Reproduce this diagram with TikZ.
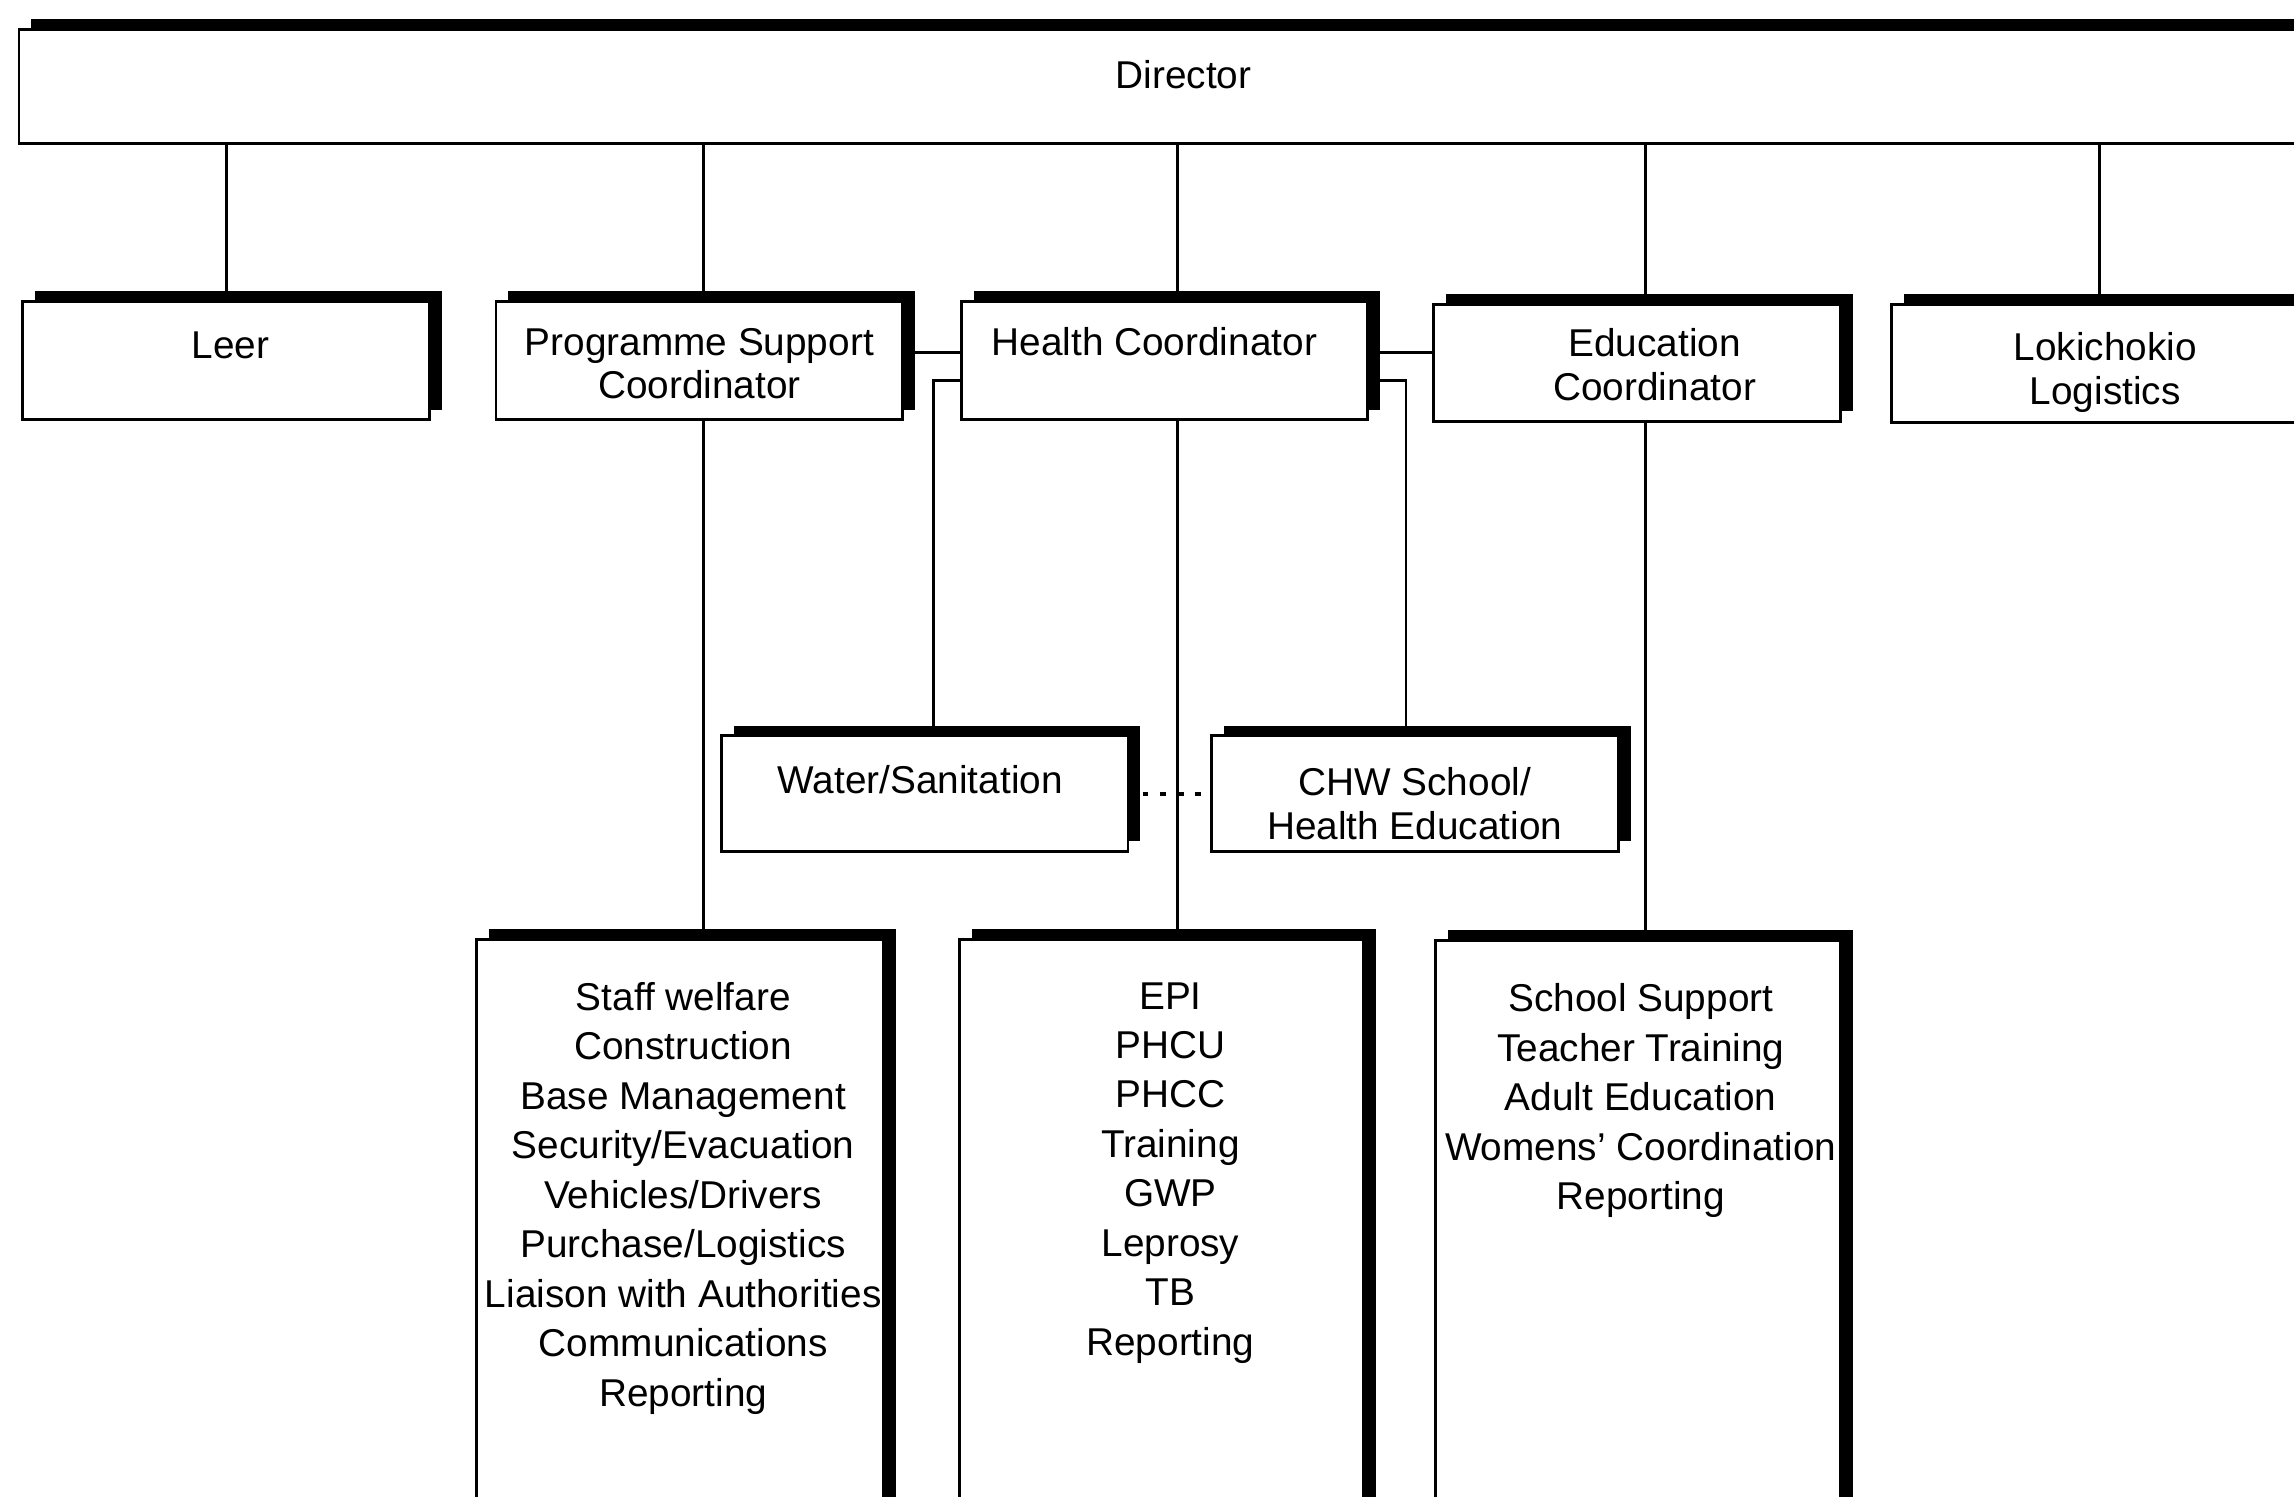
\documentclass[tikz,border=0pt]{standalone}
\usepackage{fontspec}
\setmainfont{Liberation Sans}
\usetikzlibrary{shadows}
\begin{document}
\begin{tikzpicture}[x=1pt,y=-1pt,
  box/.style={draw=black, line width=2pt, fill=white, rectangle, inner sep=0pt, outer sep=0pt,
     drop shadow={shadow xshift=8.5pt, shadow yshift=7pt, fill=black, opacity=1}},
  lbl/.style={anchor=north, align=center, inner sep=0pt, font=\fontsize{26.5}{30}\selectfont},
  lst/.style={anchor=north, align=center, inner sep=0pt, font=\fontsize{26.5}{33.8}\selectfont},
  conn/.style={line width=2pt},
  dots/.style={line width=3pt, dash pattern=on 4pt off 8pt}]
\useasboundingbox (0,0) rectangle (1568,1023);
\clip (0,0) rectangle (1568,1023);
\fill[white] (0,0) rectangle (1568,1023);

% top level
\node[box, minimum width=1592pt, minimum height=78pt,
  label={[lbl, yshift=-18.5pt]north:{\rule{0pt}{22pt}Director}}] (dir) at (809,59) {};
\node[box, minimum width=278pt, minimum height=81pt,
  label={[lbl, yshift=-16.5pt, xshift=3pt]north:{\rule{0pt}{22pt}Leer}}] (leer) at (154.5,246.5) {};
\node[box, minimum width=278pt, minimum height=81pt,
  label={[lbl, yshift=-14.5pt]north:{\rule{0pt}{22pt}Programme Support\\Coordinator}}] (psc) at (478,246.5) {};
\node[box, minimum width=278pt, minimum height=81pt,
  label={[lbl, yshift=-14.5pt, xshift=-7pt]north:{\rule{0pt}{22pt}Health Coordinator}}] (hc) at (796,246.5) {};
\node[box, minimum width=278pt, minimum height=80pt,
  label={[lbl, yshift=-13.5pt, xshift=12pt]north:{\rule{0pt}{22pt}Education\\Coordinator}}] (ec) at (1119,248) {};
\node[box, minimum width=292pt, minimum height=81pt,
  label={[lbl, yshift=-16.5pt]north:{\rule{0pt}{22pt}Lokichokio\\Logistics}}] (loki) at (1439,248.5) {};

% middle level
\node[box, minimum width=278pt, minimum height=79pt,
  label={[lbl, yshift=-17.5pt, xshift=-3pt]north:{\rule{0pt}{22pt}Water/Sanitation}}] (ws) at (632,542.5) {};
\node[box, minimum width=278pt, minimum height=79pt,
  label={[lbl, yshift=-18.5pt]north:{\rule{0pt}{22pt}CHW School/\\Health Education}}] (chw) at (967,542.5) {};

% lists
\node[box, minimum width=278pt, minimum height=458pt,
  label={[lst, yshift=-26.5pt, xshift=2pt]north:{\rule{0pt}{22pt}Staff welfare\\Construction\\Base Management\\Security/Evacuation\\Vehicles/Drivers\\Purchase/Logistics\\Liaison with Authorities\\Communications\\Reporting}}] (pslist) at (465,871) {};
\node[box, minimum width=276pt, minimum height=458pt,
  label={[lst, yshift=-25.5pt, xshift=6pt]north:{\rule{0pt}{22pt}EPI\\PHCU\\PHCC\\Training\\GWP\\Leprosy\\TB\\Reporting}}] (hclist) at (794,871) {};
\node[box, minimum width=277pt, minimum height=458pt,
  label={[lst, yshift=-26.5pt, xshift=2pt]north:{\rule{0pt}{22pt}School Support\\Teacher Training\\Adult Education\\Womens' Coordination\\Reporting}}] (eclist) at (1119.5,872) {};

% connectors from director
\coordinate (leerT) at ([xshift=0.5pt]leer.north);
\coordinate (pscT) at ([xshift=3pt]psc.north);
\coordinate (hcT) at ([xshift=9pt]hc.north);
\coordinate (ecT) at ([xshift=6pt]ec.north);
\coordinate (lokiT) at ([xshift=-4pt]loki.north);
\draw[conn] (leerT) -- (leerT |- dir.south);
\draw[conn] (pscT) -- (pscT |- dir.south);
\draw[conn] (hcT) -- (hcT |- dir.south);
\draw[conn] (ecT) -- (ecT |- dir.south);
\draw[conn] (lokiT) -- (lokiT |- dir.south);

% downward connectors
\coordinate (pscB) at ([xshift=3pt]psc.south);
\coordinate (hcB) at ([xshift=9pt]hc.south);
\coordinate (ecB) at ([xshift=6pt]ec.south);
\draw[conn] (pscB) -- (pscB |- pslist.north);
\draw[conn] (hcB) -- (hcB |- hclist.north);
\draw[conn] (ecB) -- (ecB |- eclist.north);

% horizontal links between coordinators
\coordinate (phL) at ([yshift=5.5pt]psc.east);
\coordinate (heL) at ([yshift=5.5pt]hc.east);
\draw[conn] (phL) -- (phL -| hc.west);
\draw[conn] (heL) -- (heL -| ec.west);

% health coordinator to water/sanitation and CHW
\coordinate (hcWl) at ([yshift=-13.5pt]hc.west);
\coordinate (hcEl) at ([yshift=-13.5pt]hc.east);
\coordinate (wsT) at ([xshift=6pt]ws.north);
\coordinate (chwT) at ([xshift=-6pt]chw.north);
\draw[conn] (hcWl) -| (wsT);
\draw[conn] (hcEl) -| (chwT);

% dotted link
\draw[dots] ([xshift=10pt]ws.east) -- ([xshift=-7pt]chw.west);
\end{tikzpicture}
\end{document}
